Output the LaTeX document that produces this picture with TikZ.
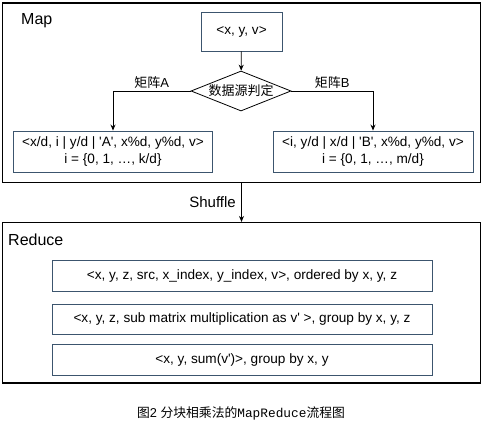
\documentclass[tikz,border=0pt]{standalone}
\usepackage{fontspec}
\setmainfont{Liberation Sans}
\newfontfamily\cjk{Noto Sans CJK SC}
\newfontfamily\capmono{Liberation Mono}
\usepackage{xcolor}
\usetikzlibrary{arrows.meta,positioning,shapes.geometric}
\definecolor{boxline}{RGB}{60,85,110}
\newcommand{\qt}{\textquotesingle}

\begin{document}
\begin{tikzpicture}[
    x=1pt, y=-1pt,
    >={Stealth[length=6pt,width=5pt]},
    stage/.style={draw=black, line width=1.1pt, inner sep=0pt},
    box/.style={draw=boxline, line width=0.9pt, inner sep=2pt,
                font=\fontsize{13.6}{16.5}\selectfont, align=center},
    lbl/.style={font=\fontsize{13}{15}\selectfont, inner sep=1pt},
    title/.style={font=\fontsize{16}{18}\selectfont, anchor=west, inner sep=0pt},
    arr/.style={->, line width=0.8pt},
  ]
  \useasboundingbox (0,0) rectangle (482,438);

  % Map stage
  \node[stage, minimum width=478pt, minimum height=179.5pt] (map) at (241.5,92.75) {};
  \node[title] (maplbl) at (21,21) {Map};
  \node[box, minimum width=81pt, minimum height=39pt] (src) at (241.5,31.5) {<x, y, v>};
  \node[draw=black, line width=0.8pt, diamond, aspect=2.5, inner sep=0pt,
        minimum width=100pt, minimum height=40pt,
        font=\cjk\fontsize{13}{15}\selectfont] (dia) at (241,91) {数据源判定};
  \node[box, minimum width=199pt, minimum height=41pt] (ma) at (113,151.5)
    {<x/d, i | y/d | \qt A\qt, x\%d, y\%d, v>\\i = \{0, 1, \dots, k/d\}};
  \node[box, minimum width=200pt, minimum height=41pt] (mb) at (373,151.5)
    {<i, y/d | x/d | \qt B\qt, x\%d, y\%d, v>\\i = \{0, 1, \dots, m/d\}};

  \draw[arr] (src) -- (dia);
  \draw[arr] (dia.west) -| node[lbl, pos=0.25, above=1pt] {{\cjk 矩阵}A} (ma.north);
  \draw[arr] (dia.east) -| node[lbl, pos=0.25, above=1pt] {{\cjk 矩阵}B} (mb.north);

  % Reduce stage
  \node[stage, minimum width=478pt, minimum height=160.5pt] (red) at (241.5,302.75) {};
  \node[title] (redlbl) at (8,240) {Reduce};
  \node[box, minimum width=380pt, minimum height=31pt] (r1) at (242,275.5)
    {<x, y, z, src, x\_index, y\_index, v>, ordered by x, y, z};
  \node[box, minimum width=380pt, minimum height=30pt] (r2) at (242,319)
    {<x, y, z, sub matrix multiplication as v\qt{} >, group by x, y, z};
  \node[box, minimum width=380pt, minimum height=31pt] (r3) at (242,359.5)
    {<x, y, sum(v\qt)>, group by x, y};

  \draw[arr] (map.south) -- node[font=\fontsize{15}{17}\selectfont, left=2pt] {Shuffle} (red.north);

  % caption
  \node[font=\fontsize{12.8}{15}\selectfont] (cap) at (241,413)
    {{\cjk 图}2 {\cjk 分块相乘法的}{\capmono MapReduce}{\cjk 流程图}};
\end{tikzpicture}
\end{document}
